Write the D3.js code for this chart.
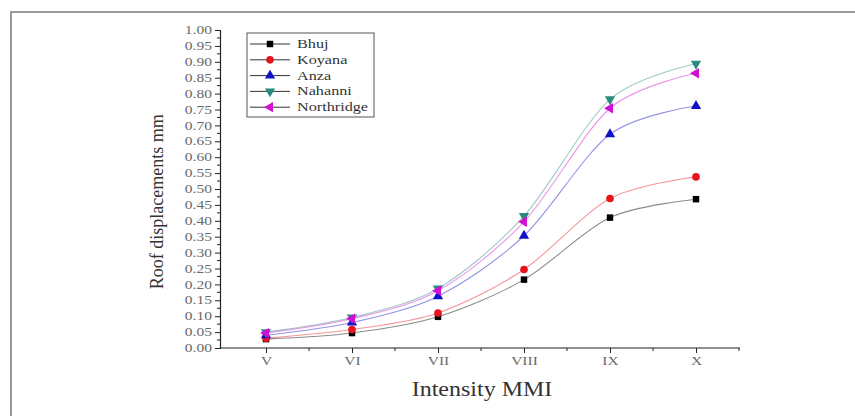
<!DOCTYPE html>
<html>
<head>
<meta charset="utf-8">
<script src="https://cdn.jsdelivr.net/npm/d3@7"></script>
<style>
  body { margin: 0; background: #fff; }
  svg text { font-family: "Liberation Serif", "DejaVu Serif", serif; }
</style>
</head>
<body>
<script>
// intensity levels on the x axis
var intensities = ["V", "VI", "VII", "VIII", "IX", "X"];

// roof displacement (mm) per earthquake record
var bhuj       = [0.028, 0.047, 0.098, 0.215, 0.410, 0.468];
var koyana     = [0.031, 0.058, 0.110, 0.247, 0.470, 0.538];
var anza       = [0.040, 0.080, 0.163, 0.353, 0.672, 0.761];
var nahanni    = [0.050, 0.096, 0.187, 0.415, 0.782, 0.894];
var northridge = [0.047, 0.092, 0.180, 0.397, 0.754, 0.864];

var seriesNames = ["Bhuj", "Koyana", "Anza", "Nahanni", "Northridge"];
var yTicks = d3.range(0, 1.0001, 0.05);

var series = [
  { name: "Bhuj", values: bhuj, color: "#000000", symbol: d3.symbolSquare, rot: 0 },
  { name: "Koyana", values: koyana, color: "#e8141c", symbol: d3.symbolCircle, rot: 0 },
  { name: "Anza", values: anza, color: "#1010c8", symbol: d3.symbolTriangle, rot: 0 },
  { name: "Nahanni", values: nahanni, color: "#2a8a80", symbol: d3.symbolTriangle, rot: 180 },
  { name: "Northridge", values: northridge, color: "#d010d0", symbol: d3.symbolTriangle, rot: -90 }
];

var SERIF = "Liberation Serif, DejaVu Serif, serif";
var STRETCH = 1.35; // the source picture is squeezed vertically, text looks wide
var WIDTH = 855, HEIGHT = 416;
var MARGINS = { top: 30, bottom: 68, left: 220, right: 115 };

var svg = d3.select("body").append("svg")
    .attr("width", WIDTH)
    .attr("height", HEIGHT);

// widen a text node around its own x position
function widen(sel, k) {
    sel.each(function() {
        var t = d3.select(this);
        var x = +t.attr("x") || 0;
        t.attr("x", x / k).attr("transform", "scale(" + k + ",1)");
    });
}

// outer frame (only left and top edges visible)
svg.append("path")
    .attr("d", "M11,416 L11,12 L855,12")
    .attr("fill", "none")
    .attr("stroke", "#9a9a9a")
    .attr("stroke-width", 2);

var xScale = d3.scalePoint()
    .domain(intensities)
    .range([266, 696]);
var step = xScale.step();

var yScale = d3.scaleLinear()
    .domain([0, 1])
    .range([HEIGHT - MARGINS.bottom, MARGINS.top]);

var x0 = MARGINS.left;
var x1 = xScale("X") + step / 2 + 1;
var yBase = yScale(0);

// y axis
var yAxis = d3.axisLeft(yScale)
    .tickValues(yTicks)
    .tickFormat(d3.format(".2f"))
    .tickSize(5)
    .tickPadding(3);

var gy = svg.append("g")
    .attr("transform", "translate(" + x0 + ",0)")
    .call(yAxis);
gy.attr("font-family", SERIF);
gy.select(".domain").attr("stroke", "#222").attr("stroke-width", 1.2);
gy.selectAll(".tick line").attr("stroke", "#222");
gy.selectAll(".tick text")
    .attr("fill", "#6a6a6a")
    .attr("font-size", 11.5)
    .call(widen, STRETCH);

// y minor ticks
gy.selectAll(".ymin")
    .data(d3.range(0.025, 1, 0.05))
    .enter().append("line")
    .attr("x1", -3).attr("x2", 0)
    .attr("y1", function(d) { return yScale(d); })
    .attr("y2", function(d) { return yScale(d); })
    .attr("stroke", "#222");

// x axis line
svg.append("line")
    .attr("x1", x0).attr("x2", x1)
    .attr("y1", yBase).attr("y2", yBase)
    .attr("stroke", "#222").attr("stroke-width", 1.2);

var gx = svg.append("g")
    .attr("transform", "translate(0," + yBase + ")")
    .call(d3.axisBottom(xScale).tickSize(5).tickPadding(4));
gx.attr("font-family", SERIF);
gx.select(".domain").remove();
gx.selectAll(".tick line").attr("stroke", "#222");
gx.selectAll(".tick text")
    .attr("fill", "#6a6a6a")
    .attr("font-size", 11.5)
    .call(widen, STRETCH);

// x minor ticks at half steps
gx.selectAll(".xmin")
    .data(intensities)
    .enter().append("line")
    .attr("x1", function(d) { return xScale(d) + step / 2; })
    .attr("x2", function(d) { return xScale(d) + step / 2; })
    .attr("y1", 0).attr("y2", 3)
    .attr("stroke", "#222");

// axis titles
svg.append("text")
    .attr("transform", "translate(163," + yScale(0.46) + ") rotate(-90)")
    .attr("text-anchor", "middle")
    .attr("font-family", SERIF)
    .attr("font-size", 18)
    .attr("fill", "#333")
    .text("Roof displacements mm");

svg.append("text")
    .attr("x", 482)
    .attr("y", 396)
    .attr("text-anchor", "middle")
    .attr("font-family", SERIF)
    .attr("font-size", 20)
    .attr("fill", "#333")
    .text("Intensity MMI")
    .call(widen, 1.2);

// curves
var lineGen = d3.line()
    .x(function(d, i) { return xScale(intensities[i]); })
    .y(function(d) { return yScale(d); })
    .curve(d3.curveCardinal.tension(0.1));

series.forEach(function(s) {
    svg.append("path")
        .attr("d", lineGen(s.values))
        .attr("fill", "none")
        .attr("stroke", s.color)
        .attr("stroke-opacity", 0.45)
        .attr("stroke-width", 1.1);
});

function symbolPath(s) {
    var size = s.symbol === d3.symbolSquare ? 42 : 46;
    return d3.symbol().type(s.symbol).size(size)();
}

series.forEach(function(s) {
    svg.append("g").selectAll("path")
        .data(s.values)
        .enter().append("path")
        .attr("d", symbolPath(s))
        .attr("fill", s.color)
        .attr("transform", function(d, i) {
            return "translate(" + xScale(intensities[i]) + "," + yScale(d) + ") rotate(" + s.rot + ")";
        });
});

// legend
var legend = svg.append("g").attr("transform", "translate(247,33)");
legend.append("rect")
    .attr("width", 127).attr("height", 84)
    .attr("fill", "#fff")
    .attr("stroke", "#555")
    .attr("stroke-width", 1);

series.forEach(function(s, i) {
    var y = 11 + i * 15.8;
    legend.append("line")
        .attr("x1", 3).attr("x2", 43)
        .attr("y1", y).attr("y2", y)
        .attr("stroke", "#333").attr("stroke-width", 1);
    legend.append("path")
        .attr("d", symbolPath(s))
        .attr("fill", s.color)
        .attr("transform", "translate(23," + y + ") rotate(" + s.rot + ")");
    legend.append("text")
        .attr("x", 50).attr("y", y + 4)
        .attr("font-family", SERIF)
        .attr("font-size", 12)
        .attr("fill", "#333")
        .text(seriesNames[i])
        .call(widen, STRETCH);
});
</script>
</body>
</html>
